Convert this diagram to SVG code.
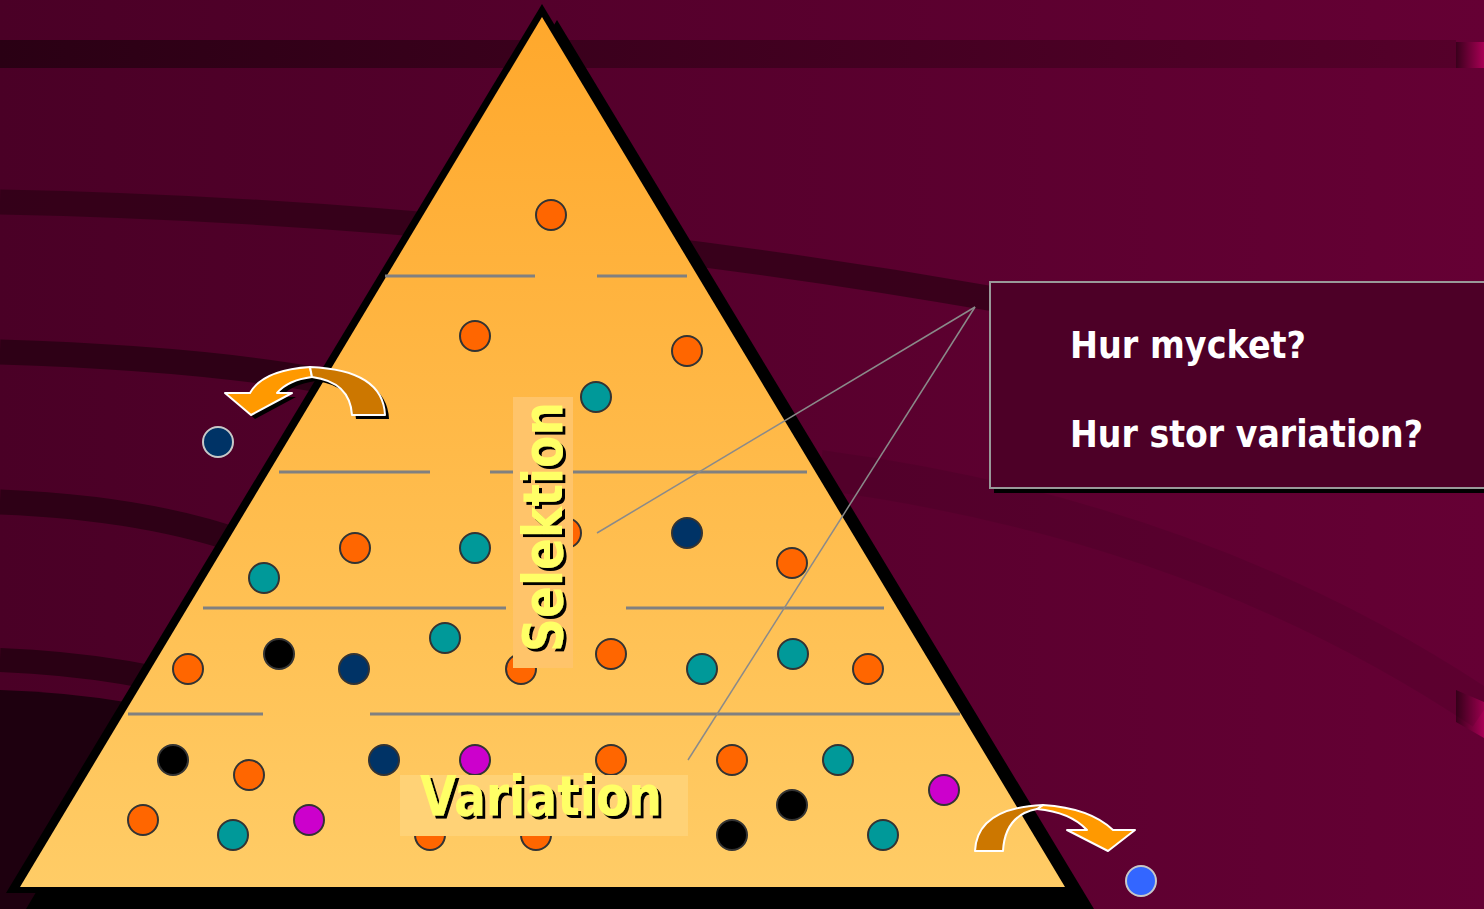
<svg xmlns="http://www.w3.org/2000/svg" width="1484" height="909" viewBox="0 0 1484 909">
<defs>
<linearGradient id="bg" x1="0" y1="0" x2="1" y2="0">
<stop offset="0" stop-color="#4A0026"/>
<stop offset="1" stop-color="#650034"/>
</linearGradient>
<linearGradient id="stripe" x1="0" y1="0" x2="1" y2="0">
<stop offset="0" stop-color="#2A0014"/>
<stop offset="1" stop-color="#55002A"/>
</linearGradient>
<linearGradient id="pyr" x1="0" y1="17" x2="0" y2="887" gradientUnits="userSpaceOnUse">
<stop offset="0" stop-color="#FFA82C"/>
<stop offset="1" stop-color="#FFCC66"/>
</linearGradient>
<linearGradient id="pink" x1="0" y1="0" x2="1" y2="0">
<stop offset="0" stop-color="#3A001C"/>
<stop offset="1" stop-color="#A80055"/>
</linearGradient>
<filter id="sh" x="-10%" y="-10%" width="130%" height="130%">
<feDropShadow dx="3" dy="3" stdDeviation="0" flood-color="#000" flood-opacity="1"/>
</filter>
<filter id="shr" x="-10%" y="-10%" width="130%" height="130%">
<feDropShadow dx="-3" dy="3" stdDeviation="0" flood-color="#000" flood-opacity="1"/>
</filter>
<style>
.c{stroke:#333;stroke-width:2}
.o{fill:#FF6600}.t{fill:#009999}.n{fill:#003366}.k{fill:#000}.m{fill:#CC00CC}
.out{stroke:#C8C8C8;stroke-width:2}
.gl{stroke:#808080;stroke-width:3}
.lab{font-family:"DejaVu Sans",Verdana,sans-serif;font-weight:bold;font-size:55px;fill:#FFFF66}
.q{font-family:"DejaVu Sans",Tahoma,sans-serif;font-weight:bold;font-size:37px;fill:#fff}
.con{stroke:#8A8A8A;stroke-width:1.5;fill:none}
.lt{fill:#FF9900;stroke:#fff;stroke-width:2;stroke-linejoin:round}
.dk{fill:#CC7700;stroke:#fff;stroke-width:2;stroke-linejoin:round}
</style>
</defs>
<g id="background">
<rect width="1484" height="909" fill="url(#bg)"/>
<rect x="0" y="40" width="1456" height="28" fill="url(#stripe)"/>
<rect x="1456" y="42" width="28" height="26" fill="url(#pink)"/>
<polygon points="1456,690 1484,702 1484,738 1456,722" fill="url(#pink)"/>
<path d="M0,202 Q 500,212 1000,300" stroke="#2E0016" stroke-width="25" fill="none" opacity="0.75"/>
<path d="M0,352 Q 200,358 330,382" stroke="#2E0016" stroke-width="25" fill="none"/>
<path d="M0,502 Q 150,508 250,545" stroke="#2E0016" stroke-width="25" fill="none"/>
<path d="M0,660 Q 130,665 240,700" stroke="#2A0014" stroke-width="24" fill="none"/>
<path d="M0,690 Q 130,694 240,730 L 240,909 L 0,909 Z" fill="#1E000F"/>
<path d="M820,470 Q 1200,520 1484,710" stroke="#000" stroke-opacity="0.08" stroke-width="40" fill="none"/>
</g>
<g id="pyramid">
<polygon points="557,20 1094,909 26,909" fill="#000"/>
<polygon points="542,4 6,893 1078,893" fill="#000"/>
<polygon points="542,17 20,887 1065,887" fill="url(#pyr)"/>
</g>
<g id="levels">
<line class="gl" x1="385" y1="276" x2="535" y2="276"/>
<line class="gl" x1="597" y1="276" x2="687" y2="276"/>
<line class="gl" x1="279" y1="472" x2="430" y2="472"/>
<line class="gl" x1="490" y1="472" x2="807" y2="472"/>
<line class="gl" x1="203" y1="608" x2="506" y2="608"/>
<line class="gl" x1="626" y1="608" x2="884" y2="608"/>
<line class="gl" x1="128" y1="714" x2="263" y2="714"/>
<line class="gl" x1="370" y1="714" x2="960" y2="714"/>
</g>
<g id="individuals">
<circle class="c o" cx="551" cy="215" r="15"/>
<circle class="c o" cx="475" cy="336" r="15"/>
<circle class="c o" cx="687" cy="351" r="15"/>
<circle class="c t" cx="596" cy="397" r="15"/>
<circle class="c o" cx="566" cy="533" r="15"/>
<circle class="c n" cx="687" cy="533" r="15"/>
<circle class="c o" cx="355" cy="548" r="15"/>
<circle class="c t" cx="475" cy="548" r="15"/>
<circle class="c o" cx="792" cy="563" r="15"/>
<circle class="c t" cx="264" cy="578" r="15"/>
<circle class="c t" cx="445" cy="638" r="15"/>
<circle class="c k" cx="279" cy="654" r="15"/>
<circle class="c o" cx="611" cy="654" r="15"/>
<circle class="c t" cx="793" cy="654" r="15"/>
<circle class="c o" cx="188" cy="669" r="15"/>
<circle class="c n" cx="354" cy="669" r="15"/>
<circle class="c o" cx="521" cy="669" r="15"/>
<circle class="c t" cx="702" cy="669" r="15"/>
<circle class="c o" cx="868" cy="669" r="15"/>
<circle class="c k" cx="173" cy="760" r="15"/>
<circle class="c n" cx="384" cy="760" r="15"/>
<circle class="c m" cx="475" cy="760" r="15"/>
<circle class="c o" cx="611" cy="760" r="15"/>
<circle class="c o" cx="732" cy="760" r="15"/>
<circle class="c t" cx="838" cy="760" r="15"/>
<circle class="c o" cx="249" cy="775" r="15"/>
<circle class="c m" cx="944" cy="790" r="15"/>
<circle class="c k" cx="792" cy="805" r="15"/>
<circle class="c o" cx="143" cy="820" r="15"/>
<circle class="c t" cx="233" cy="835" r="15"/>
<circle class="c m" cx="309" cy="820" r="15"/>
<circle class="c o" cx="430" cy="835" r="15"/>
<circle class="c o" cx="536" cy="835" r="15"/>
<circle class="c k" cx="732" cy="835" r="15"/>
<circle class="c t" cx="883" cy="835" r="15"/>
</g>
<g id="out-left">
<circle class="out n" cx="218" cy="442" r="15"/>
</g>
<g id="out-right">
<circle class="out" cx="1141" cy="881" r="15" fill="#3366FF"/>
</g>
<g id="arrow-left">
<g transform="translate(4,4)" fill="#000">
<path d="M310,367 Q263,370 250,393 L225,393 L251,415 L292,393 L277,393 Q288,380 312,377 Z"/>
<path d="M310,367 Q383,370 385,415 L352,415 Q350,382 312,377 Z"/>
</g>
<path class="lt" d="M310,367 Q263,370 250,393 L225,393 L251,415 L292,393 L277,393 Q288,380 312,377 Z"/>
<path class="dk" d="M310,367 Q383,370 385,415 L352,415 Q350,382 312,377 Z"/>
</g>
<g id="arrow-right">
<path class="lt" d="M1043,805 Q1090,808 1113,830 L1135,830 L1108,851 L1067,830 L1087,830 Q1070,812 1037,809 Z"/>
<path class="dk" d="M1043,805 Q977,808 975,851 L1003,851 Q1005,815 1037,809 Z"/>
</g>
<g id="connectors">
<line class="con" x1="975" y1="307" x2="597" y2="533"/>
<line class="con" x1="975" y1="307" x2="688" y2="760"/>
</g>
<g id="selektion">
<rect x="513" y="397" width="60" height="271" fill="#FFC46A"/>
<text class="lab" filter="url(#shr)" transform="translate(562,527) rotate(-90)" x="0" y="0" text-anchor="middle" textLength="250" lengthAdjust="spacingAndGlyphs">Selektion</text>
</g>
<g id="variation">
<rect x="400" y="775" width="288" height="61" fill="#FFD276"/>
<text class="lab" filter="url(#sh)" x="420" y="815" textLength="242" lengthAdjust="spacingAndGlyphs">Variation</text>
</g>
<g id="questions">
<rect x="994" y="287" width="500" height="206" fill="#000"/>
<rect x="990" y="282" width="500" height="206" fill="#4D0027" stroke="#999" stroke-width="2"/>
<text class="q" x="1070" y="358" textLength="236" lengthAdjust="spacingAndGlyphs">Hur mycket?</text>
<text class="q" x="1070" y="447" textLength="353" lengthAdjust="spacingAndGlyphs">Hur stor variation?</text>
</g>
</svg>
